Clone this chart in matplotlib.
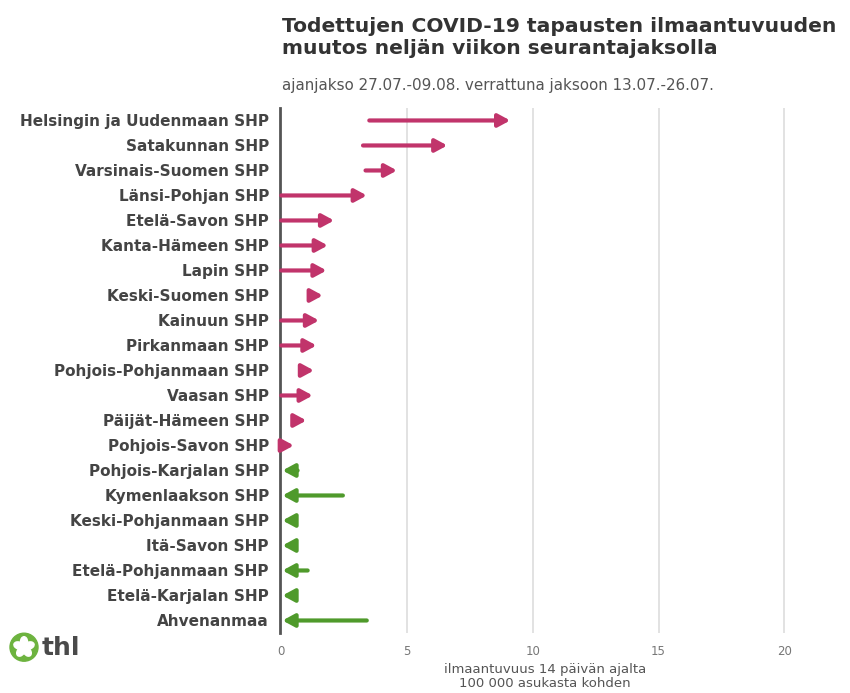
import matplotlib
matplotlib.use("Agg")
import matplotlib.pyplot as plt
from matplotlib.patches import Circle, Ellipse
import numpy as np

# data
regions = ["Helsingin ja Uudenmaan SHP", "Satakunnan SHP", "Varsinais-Suomen SHP",
           "Länsi-Pohjan SHP", "Etelä-Savon SHP", "Kanta-Hämeen SHP", "Lapin SHP",
           "Keski-Suomen SHP", "Kainuun SHP", "Pirkanmaan SHP", "Pohjois-Pohjanmaan SHP",
           "Vaasan SHP", "Päijät-Hämeen SHP", "Pohjois-Savon SHP", "Pohjois-Karjalan SHP",
           "Kymenlaakson SHP", "Keski-Pohjanmaan SHP", "Itä-Savon SHP",
           "Etelä-Pohjanmaan SHP", "Etelä-Karjalan SHP", "Ahvenanmaa"]
before = [3.5, 3.25, 3.35, 0.0, 0.0, 0.0, 0.0, 1.15, 0.0, 0.0, 0.85, 0.0, 0.5, 0.0,
          0.65, 2.45, 0.45, 0.45, 1.05, 0.45, 3.4]
after = [9.1, 6.6, 4.6, 3.4, 2.1, 1.85, 1.8, 1.65, 1.5, 1.4, 1.3, 1.25, 1.0, 0.5,
         0.05, 0.05, 0.05, 0.05, 0.05, 0.05, 0.05]
xticks = [0, 5, 10, 15, 20]

up_col = "#c1346b"
down_col = "#4f9a2b"
txt_col = "#444444"

fig = plt.figure(figsize=(8.5, 6.93), dpi=100)
ax = fig.add_axes([0.3294, 0.0866, 0.623, 0.7576])

y = np.arange(len(regions))
for i in range(len(regions)):
    col = up_col if after[i] > before[i] else down_col
    ax.annotate("", xy=(after[i], y[i]), xytext=(before[i], y[i]),
                arrowprops=dict(arrowstyle="-|>,head_length=0.7,head_width=0.38",
                                lw=3.0, color=col, shrinkA=0, shrinkB=0,
                                mutation_scale=10))

ax.set_xlim(-0.05, 21)
ax.set_ylim(len(regions) - 0.5, -0.5)
for s in ["top", "right", "bottom"]:
    ax.spines[s].set_visible(False)
ax.spines["left"].set_color("#555555")
ax.spines["left"].set_linewidth(2)
ax.set_yticks(y)
ax.set_yticklabels(regions, fontsize=11, fontweight="bold", color=txt_col)
ax.set_xticks(xticks)
ax.set_xticklabels([str(t) for t in xticks], fontsize=8.5, color="#777777")
ax.tick_params(axis="both", length=0)
ax.tick_params(axis="y", pad=8)
ax.tick_params(axis="x", pad=9)
for t in xticks[1:]:
    ax.axvline(t, color="#e2e2e2", lw=1.4, zorder=0)

ax.set_xlabel("ilmaantuvuus 14 päivän ajalta\n100 000 asukasta kohden",
              fontsize=9.5, color="#555555", labelpad=3.5, linespacing=1.1)

fig.text(0.332, 0.976, "Todettujen COVID-19 tapausten ilmaantuvuuden\nmuutos neljän viikon seurantajaksolla",
         fontsize=14.6, fontweight="bold", color="#333333", va="top", ha="left",
         linespacing=1.2)
fig.text(0.332, 0.877, "ajanjakso 27.07.-09.08. verrattuna jaksoon 13.07.-26.07.",
         fontsize=10.9, color="#555555", va="center", ha="left")

# thl logo
lax = fig.add_axes([0.0, 0.03, 0.12, 0.07])
lax.set_xlim(0, 102)
lax.set_ylim(0, 48.5)
lax.set_aspect("equal")
lax.axis("off")
lax.add_patch(Circle((24, 25), 14, color="#6db33f"))
for a in range(5):
    ang = np.deg2rad(90 + a * 72)
    lax.add_patch(Ellipse((24 + 5.5 * np.cos(ang), 25 + 5.5 * np.sin(ang)), 7, 10,
                          angle=np.rad2deg(ang) - 90, color="white"))
lax.text(42, 24, "thl", fontsize=18, fontweight="bold", color="#4a4a4a", va="center")

fig.savefig("out.png", dpi=100, facecolor="white")
